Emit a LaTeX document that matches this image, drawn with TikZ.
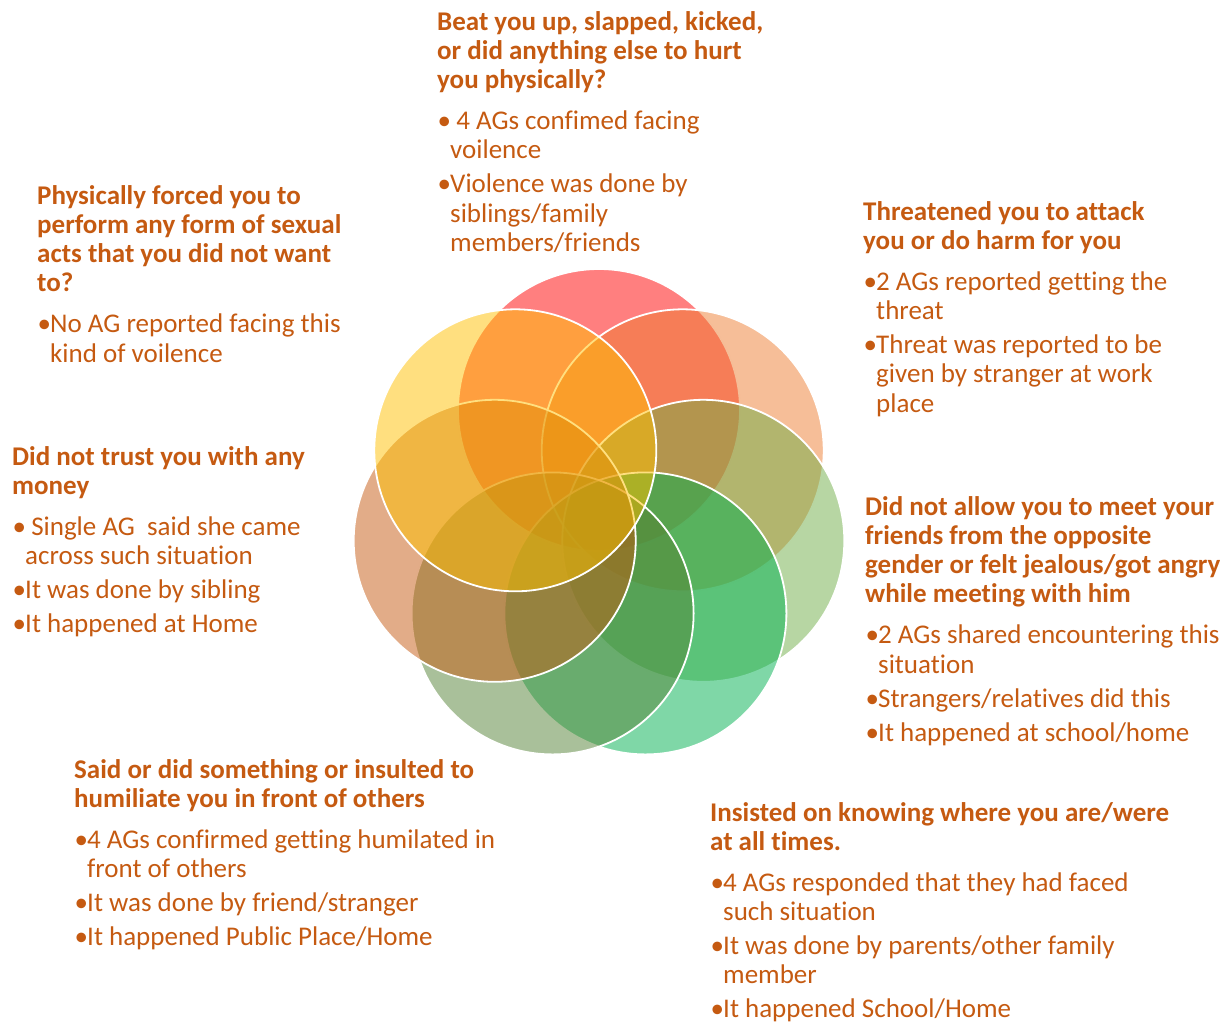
\documentclass[tikz,border=0pt]{standalone}
\usepackage{fontspec}
\setmainfont{Carlito}[Ligatures=NoCommon]
\usetikzlibrary{shapes.geometric}

\definecolor{txtc}{HTML}{C55A11}
\definecolor{cred}{HTML}{FF0000}
\definecolor{cpeach}{HTML}{ED7D31}
\definecolor{colive}{HTML}{70AD47}
\definecolor{cgreen}{HTML}{00B050}
\definecolor{cdkgreen}{HTML}{548235}
\definecolor{ctan}{HTML}{C55A11}
\definecolor{cyellow}{HTML}{FFC000}

% bullet with hanging indent, and the indent for continuation lines
\newcommand\bul{\makebox[13pt][l]{\makebox[0pt][l]{\hspace{0.5pt}\textbullet}}}
\newcommand\cnt{\hspace*{13pt}}
\newcommand\hgap{\\[11.7pt]}
\newcommand\bgap{\\[4.7pt]}

\tikzset{
  petal/.style={circle, minimum size=282pt, inner sep=0pt,
    fill opacity=0.5, draw=white, draw opacity=1, line width=1.8pt},
  txtblock/.style={anchor=base west, inner sep=0pt, text=txtc,
    font=\fontsize{27}{29.3}\selectfont}
}

\begin{document}
\begin{tikzpicture}[x=1pt,y=-1pt]
\useasboundingbox (0,0) rectangle (1220,1021);

% ring of seven overlapping circles, drawn clockwise from the top
\node[petal, fill=cred]     (c1) at (599.0,410.0) {};
\node[petal, fill=cpeach]   (c2) at (682.7,450.3) {};
\node[petal, fill=colive]   (c3) at (703.3,540.8) {};
\node[petal, fill=cgreen]   (c4) at (645.4,613.4) {};
\node[petal, fill=cdkgreen] (c5) at (552.6,613.4) {};
\node[petal, fill=ctan]     (c6) at (494.7,540.8) {};
\node[petal, fill=cyellow]  (c7) at (515.3,450.3) {};

% question blocks
\node[txtblock] (physical) at (437,30) {\begin{minipage}[t]{480pt}\raggedright
\bfseries Beat you up, slapped, kicked,\\
or did anything else to hurt\\
you physically?\hgap
\mdseries\bul\ 4 AGs confimed facing\\
\cnt voilence\bgap
\bul Violence was done by\\
\cnt siblings/family\\
\cnt members/friends
\end{minipage}};

\node[txtblock] (sexual) at (37,204) {\begin{minipage}[t]{480pt}\raggedright
\bfseries Physically forced you to\\
perform any form of sexual\\
acts that you did not want\\
to?\hgap
\mdseries\bul No AG reported facing this\\
\cnt kind of voilence
\end{minipage}};

\node[txtblock] (threat) at (863,220) {\begin{minipage}[t]{480pt}\raggedright
\bfseries Threatened you to attack\\
you or do harm for you\hgap
\mdseries\bul 2 AGs reported getting the\\
\cnt threat\bgap
\bul Threat was reported to be\\
\cnt given by stranger at work\\
\cnt place
\end{minipage}};

\node[txtblock] (money) at (12,465) {\begin{minipage}[t]{480pt}\raggedright
\bfseries Did not trust you with any\\
money\hgap
\mdseries\bul\ Single AG\ \ said she came\\
\cnt across such situation\bgap
\bul It was done by sibling\bgap
\bul It happened at Home
\end{minipage}};

\node[txtblock] (meeting) at (865,515) {\begin{minipage}[t]{480pt}\raggedright
\bfseries Did not allow you to meet your\\
friends from the opposite\\
gender or felt jealous/got angry\\
while meeting with him\hgap
\mdseries\bul 2 AGs shared encountering this\\
\cnt situation\bgap
\bul Strangers/relatives did this\bgap
\bul It happened at school/home
\end{minipage}};

\node[txtblock] (humiliate) at (74,778) {\begin{minipage}[t]{520pt}\raggedright
\bfseries Said or did something or insulted to\\
humiliate you in front of others\hgap
\mdseries\bul 4 AGs confirmed getting humilated in\\
\cnt front of others\bgap
\bul It was done by friend/stranger\bgap
\bul It happened Public Place/Home
\end{minipage}};

\node[txtblock] (whereabouts) at (710,821) {\begin{minipage}[t]{520pt}\raggedright
\bfseries Insisted on knowing where you are/were\\
at all times.\hgap
\mdseries\bul 4 AGs responded that they had faced\\
\cnt such situation\bgap
\bul It was done by parents/other family\\
\cnt member\bgap
\bul It happened School/Home
\end{minipage}};
\end{tikzpicture}
\end{document}
